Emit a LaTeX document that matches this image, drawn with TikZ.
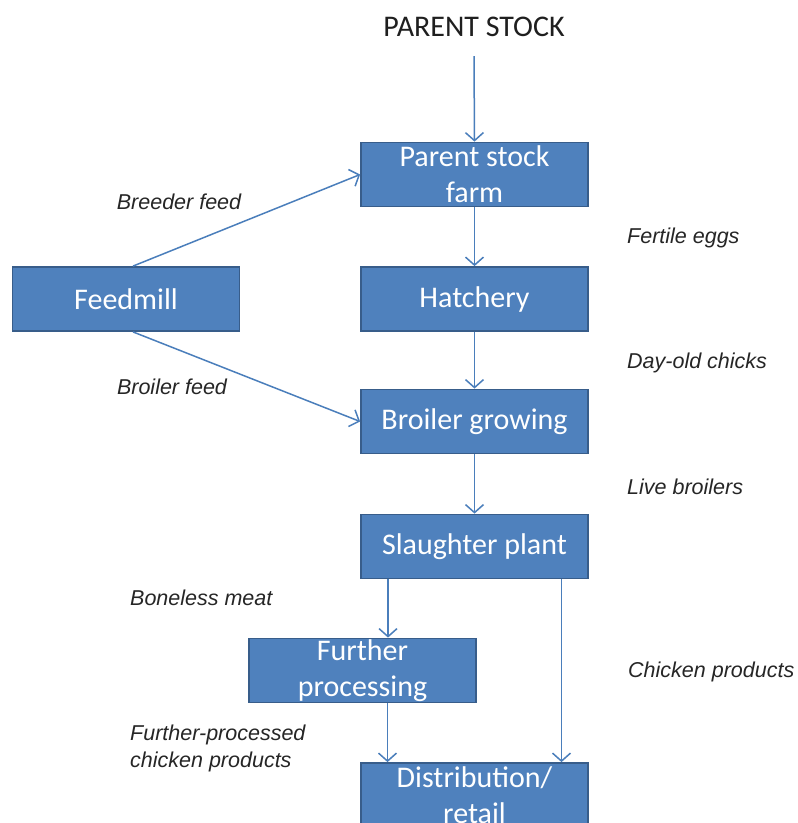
\documentclass[tikz,border=0pt]{standalone}
\usepackage{fontspec}
\setmainfont{Carlito}
\newfontfamily\labfont{Liberation Sans}
\usetikzlibrary{arrows.meta,calc}
\definecolor{boxfill}{HTML}{4F81BD}
\definecolor{boxline}{HTML}{385D8A}
\definecolor{arrcol}{HTML}{4A7EBB}
\definecolor{labcol}{HTML}{262626}
\begin{document}
\begin{tikzpicture}[x=1pt,y=-1pt,
  box/.style={draw=boxline, line width=1.8pt, fill=boxfill, text=white,
    minimum width=227pt, minimum height=64pt, inner sep=0pt, align=center,
    font=\fontsize{30}{36}\selectfont},
  lab/.style={text=labcol, inner sep=0pt, anchor=west, align=left,
    font=\labfont\itshape\fontsize{21.5}{27}\selectfont},
  arr/.style={draw=arrcol, line width=1.5pt, -{Straight Barb[length=8pt,width=18pt]}}]
\useasboundingbox (0,0) rectangle (798,823);
\clip (0,0) rectangle (798,823);
\fill[white] (0,0) rectangle (798,823);

% title
\node[inner sep=0pt, text=black!88, font=\fontsize{30}{34}\selectfont] (ps) at (474,27) {PARENT STOCK};

% boxes
\node[box] (psf) at (474.5,174.5) {Parent stock\\farm};
\node[box] (hatch) at (474.5,299) {Hatchery};
\node[box] (feed) at (126,299) {Feedmill};
\node[box] (broil) at (474.5,421.5) {Broiler growing};
\node[box] (slaught) at (474.5,546.5) {Slaughter plant};
\node[box] (further) at (362.5,670.5) {Further\\processing};
\node[box] (dist) at (474.5,795) {Distribution/\\retail};

% connectors
\draw[arr] ([yshift=-19pt]ps.south) -- (psf.north);
\draw[arr] (psf.south) -- (hatch.north);
\draw[arr] (hatch.south) -- (broil.north);
\draw[arr] (broil.south) -- (slaught.north);
\draw[arr] ([xshift=7pt]feed.north) -- (psf.west);
\draw[arr] ([xshift=7pt]feed.south) -- (broil.west);
\draw[arr] ([xshift=-86.5pt]slaught.south) -- ([xshift=-86.5pt]slaught.south |- further.north);
\draw[arr] ([xshift=87pt]slaught.south) -- ([xshift=87pt]slaught.south |- dist.north);
\draw[arr] ([xshift=25pt]further.south) -- ([xshift=25pt]further.south |- dist.north);

% labels
\node[lab, anchor=center] (lbreed) at (179,202) {Breeder feed};
\node[lab, anchor=center] (lbroil) at (172,387) {Broiler feed};
\node[lab] (lfert) at (627,238) {Fertile eggs};
\node[lab] (lday) at (627,363) {Day-old chicks};
\node[lab] (llive) at (627,487) {Live broilers};
\node[lab] (lbone) at (130,598) {Boneless meat};
\node[lab] (lchick) at (628,672) {Chicken products};
\node[lab] (lfpp) at (130,748.5) {Further-processed\\chicken products};
\end{tikzpicture}
\end{document}
